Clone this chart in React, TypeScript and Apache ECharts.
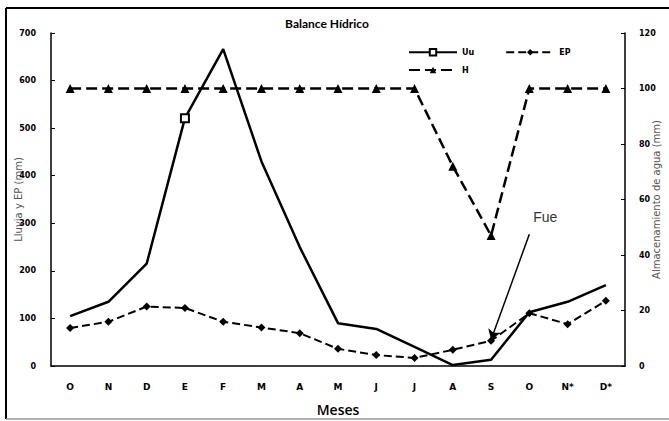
import React, { useEffect, useRef } from "react";
import * as echarts from "echarts";

const months = ["O", "N", "D", "E", "F", "M", "A", "M", "J", "J", "A", "S", "O", "N*", "D*"];
const uu = [105, 135, 215, 521, 666, 430, 250, 90, 78, 40, 2, 13, 113, 135, 170];
const ep = [80, 93, 125, 122, 93, 81, 69, 36, 23, 17, 34, 53, 111, 88, 137];
const h = [100, 100, 100, 100, 100, 100, 100, 100, 100, 100, 72, 47, 100, 100, 100];
const leftTicks = { min: 0, max: 700, interval: 100 };
const rightTicks = { min: 0, max: 120, interval: 20 };
const arrowFrom = [12.13, 277];
const arrowTo = [11.16, 55];
const noteAt = [12, 313];
const markedIndex = 3;

export default function App() {
  const ref = useRef<HTMLDivElement>(null);
  useEffect(() => {
    document.body.style.margin = "0";
    const chart = echarts.init(ref.current!, null, { renderer: "svg" });
    const tickFont = { fontSize: 8, fontWeight: "bold" as const, fontFamily: "DejaVu Sans", color: "#000" };
    chart.setOption({
      animation: false,
      backgroundColor: "#fff",
      title: {
        text: "Balance Hídrico",
        left: 322,
        top: 12,
        textAlign: "center",
        textStyle: { fontSize: 12, fontWeight: "bold", fontFamily: "Lato", color: "#000" },
      },
      legend: [
        {
          data: ["Uu", "EP"],
          left: 403,
          top: 43,
          itemWidth: 48,
          itemHeight: 8,
          itemGap: 31,
          textStyle: { fontSize: 8, fontWeight: "bold", fontFamily: "DejaVu Sans", color: "#000" },
        },
        {
          data: ["H"],
          left: 403,
          top: 61,
          itemWidth: 48,
          itemHeight: 8,
          textStyle: { fontSize: 8, fontWeight: "bold", fontFamily: "DejaVu Sans", color: "#000" },
        },
      ],
      grid: { left: 51, right: 44, top: 33, bottom: 55, containLabel: false, outerBoundsMode: "none" },
      xAxis: {
        type: "category",
        data: months,
        boundaryGap: true,
        name: "Meses",
        nameLocation: "middle",
        nameGap: 36,
        nameMoveOverlap: false,
        nameTextStyle: { fontSize: 14, fontWeight: 600, fontFamily: "Open Sans", color: "#000" },
        axisLine: { lineStyle: { color: "#000", width: 1.5 } },
        axisTick: { inside: true, length: 4, lineStyle: { color: "#000" } },
        axisLabel: { ...tickFont, fontSize: 9, margin: 16 },
        splitLine: { show: false },
      },
      yAxis: [
        {
          type: "value",
          ...leftTicks,
          position: "left",
          name: "Lluvia y EP (mm)",
          nameLocation: "middle",
          nameRotate: 90,
          nameGap: 28,
          nameMoveOverlap: false,
          nameTextStyle: { fontSize: 10, fontFamily: "DejaVu Sans", color: "#555" },
          axisLine: { show: true, lineStyle: { color: "#000", width: 1.5 } },
          axisTick: { show: true, inside: true, length: 4, lineStyle: { color: "#000" } },
          axisLabel: { ...tickFont, margin: 15 },
          splitLine: { show: false },
        },
        {
          type: "value",
          ...rightTicks,
          position: "right",
          name: "Almacenamiento de agua (mm)",
          nameLocation: "middle",
          nameRotate: 90,
          nameGap: 26,
          nameMoveOverlap: false,
          nameTextStyle: { fontSize: 10, fontFamily: "DejaVu Sans", color: "#555" },
          axisLine: { show: true, lineStyle: { color: "#000", width: 1.5 } },
          axisTick: { show: true, inside: true, length: 4, lineStyle: { color: "#000" } },
          axisLabel: { ...tickFont, margin: 14 },
          splitLine: { show: false },
        },
      ],
      series: [
        {
          name: "Uu",
          type: "line",
          yAxisIndex: 0,
          data: uu.map((v, i) =>
            i === markedIndex ? { value: v } : { value: v, symbol: "none" }
          ),
          symbol: "emptyRect",
          symbolSize: 8,
          itemStyle: { color: "#000", borderColor: "#000", borderWidth: 1.5 },
          lineStyle: { color: "#000", width: 2.5, type: "solid" },
          markLine: {
            silent: true,
            symbol: ["none", "arrow"],
            symbolSize: 10,
            lineStyle: { color: "#000", width: 1.5, type: "solid" },
            label: { show: false },
            data: [[{ coord: arrowFrom }, { coord: arrowTo }]],
          },
          markPoint: {
            silent: true,
            symbol: "circle",
            symbolSize: 1,
            itemStyle: { color: "transparent" },
            label: {
              show: true,
              formatter: "Fue",
              position: "inside",
              offset: [16, 0],
              fontSize: 14,
              fontFamily: "Liberation Sans",
              color: "#333",
            },
            data: [{ coord: noteAt }],
          },
        },
        {
          name: "EP",
          type: "line",
          yAxisIndex: 0,
          data: ep,
          symbol: "diamond",
          symbolSize: 8,
          itemStyle: { color: "#000" },
          lineStyle: { color: "#000", width: 2, type: [8, 4] },
        },
        {
          name: "H",
          type: "line",
          yAxisIndex: 1,
          data: h,
          symbol: "triangle",
          symbolSize: 9,
          itemStyle: { color: "#000" },
          lineStyle: { color: "#000", width: 2.5, type: [11, 5] },
        },
      ],
      graphic: [
        { type: "line", shape: { x1: 6, y1: 8, x2: 669, y2: 8 }, style: { stroke: "#000", lineWidth: 2 } },
        { type: "line", shape: { x1: 6, y1: 8, x2: 6, y2: 419 }, style: { stroke: "#000", lineWidth: 2 } },
        { type: "line", shape: { x1: 6, y1: 419, x2: 669, y2: 419 }, style: { stroke: "#999", lineWidth: 1.5 } },
      ],
    });
    return () => chart.dispose();
  }, []);
  return <div ref={ref} style={{ width: 669, height: 421 }} />;
}
